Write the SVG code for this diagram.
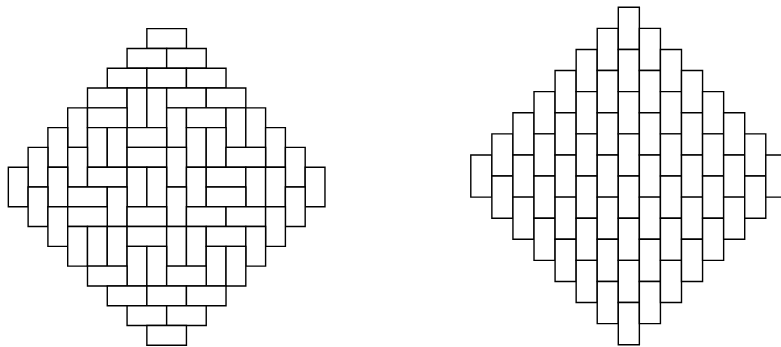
<svg xmlns="http://www.w3.org/2000/svg" width="781" height="347" viewBox="0 0 781 347">
<style>
rect{fill:#fff;stroke:#000;stroke-width:1.4;vector-effect:non-scaling-stroke}
</style>
<rect x="0" y="0" width="781" height="347" style="fill:#fff;stroke:none"/>
<g id="aztec-left" transform="translate(8.33,28.67) scale(19.79)">
<rect x="7" y="0" width="2" height="1"/>
<rect x="6" y="1" width="2" height="1"/><rect x="8" y="1" width="2" height="1"/>
<rect x="5" y="2" width="2" height="1"/><rect x="7" y="2" width="2" height="1"/><rect x="9" y="2" width="2" height="1"/>
<rect x="4" y="3" width="2" height="1"/><rect x="6" y="3" width="1" height="2"/><rect x="7" y="3" width="1" height="2"/><rect x="8" y="3" width="2" height="1"/><rect x="10" y="3" width="2" height="1"/>
<rect x="3" y="4" width="1" height="2"/><rect x="4" y="4" width="2" height="1"/><rect x="8" y="4" width="1" height="2"/><rect x="9" y="4" width="2" height="1"/><rect x="11" y="4" width="1" height="2"/><rect x="12" y="4" width="1" height="2"/>
<rect x="2" y="5" width="1" height="2"/><rect x="4" y="5" width="1" height="2"/><rect x="5" y="5" width="1" height="2"/><rect x="6" y="5" width="2" height="1"/><rect x="9" y="5" width="1" height="2"/><rect x="10" y="5" width="1" height="2"/><rect x="13" y="5" width="1" height="2"/>
<rect x="1" y="6" width="1" height="2"/><rect x="3" y="6" width="1" height="2"/><rect x="6" y="6" width="2" height="1"/><rect x="8" y="6" width="1" height="2"/><rect x="11" y="6" width="2" height="1"/><rect x="14" y="6" width="1" height="2"/>
<rect x="0" y="7" width="1" height="2"/><rect x="2" y="7" width="1" height="2"/><rect x="4" y="7" width="2" height="1"/><rect x="6" y="7" width="1" height="2"/><rect x="7" y="7" width="1" height="2"/><rect x="9" y="7" width="1" height="2"/><rect x="10" y="7" width="2" height="1"/><rect x="12" y="7" width="1" height="2"/><rect x="13" y="7" width="1" height="2"/><rect x="15" y="7" width="1" height="2"/>
<rect x="1" y="8" width="1" height="2"/><rect x="3" y="8" width="2" height="1"/><rect x="5" y="8" width="1" height="2"/><rect x="8" y="8" width="1" height="2"/><rect x="10" y="8" width="2" height="1"/><rect x="14" y="8" width="1" height="2"/>
<rect x="2" y="9" width="1" height="2"/><rect x="3" y="9" width="2" height="1"/><rect x="6" y="9" width="2" height="1"/><rect x="9" y="9" width="2" height="1"/><rect x="11" y="9" width="2" height="1"/><rect x="13" y="9" width="1" height="2"/>
<rect x="3" y="10" width="1" height="2"/><rect x="4" y="10" width="1" height="2"/><rect x="5" y="10" width="1" height="2"/><rect x="6" y="10" width="2" height="1"/><rect x="8" y="10" width="1" height="2"/><rect x="9" y="10" width="1" height="2"/><rect x="10" y="10" width="2" height="1"/><rect x="12" y="10" width="1" height="2"/>
<rect x="6" y="11" width="1" height="2"/><rect x="7" y="11" width="1" height="2"/><rect x="10" y="11" width="1" height="2"/><rect x="11" y="11" width="1" height="2"/>
<rect x="4" y="12" width="2" height="1"/><rect x="8" y="12" width="2" height="1"/>
<rect x="5" y="13" width="2" height="1"/><rect x="7" y="13" width="2" height="1"/><rect x="9" y="13" width="2" height="1"/>
<rect x="6" y="14" width="2" height="1"/><rect x="8" y="14" width="2" height="1"/>
<rect x="7" y="15" width="2" height="1"/>
</g>
<g id="columns-right" transform="translate(470.8,7.3) scale(21.07,21.09)">
<rect x="0" y="7" width="1" height="2"/>
<rect x="1" y="6" width="1" height="2"/><rect x="1" y="8" width="1" height="2"/>
<rect x="2" y="5" width="1" height="2"/><rect x="2" y="7" width="1" height="2"/><rect x="2" y="9" width="1" height="2"/>
<rect x="3" y="4" width="1" height="2"/><rect x="3" y="6" width="1" height="2"/><rect x="3" y="8" width="1" height="2"/><rect x="3" y="10" width="1" height="2"/>
<rect x="4" y="3" width="1" height="2"/><rect x="4" y="5" width="1" height="2"/><rect x="4" y="7" width="1" height="2"/><rect x="4" y="9" width="1" height="2"/><rect x="4" y="11" width="1" height="2"/>
<rect x="5" y="2" width="1" height="2"/><rect x="5" y="4" width="1" height="2"/><rect x="5" y="6" width="1" height="2"/><rect x="5" y="8" width="1" height="2"/><rect x="5" y="10" width="1" height="2"/><rect x="5" y="12" width="1" height="2"/>
<rect x="6" y="1" width="1" height="2"/><rect x="6" y="3" width="1" height="2"/><rect x="6" y="5" width="1" height="2"/><rect x="6" y="7" width="1" height="2"/><rect x="6" y="9" width="1" height="2"/><rect x="6" y="11" width="1" height="2"/><rect x="6" y="13" width="1" height="2"/>
<rect x="7" y="0" width="1" height="2"/><rect x="7" y="2" width="1" height="2"/><rect x="7" y="4" width="1" height="2"/><rect x="7" y="6" width="1" height="2"/><rect x="7" y="8" width="1" height="2"/><rect x="7" y="10" width="1" height="2"/><rect x="7" y="12" width="1" height="2"/><rect x="7" y="14" width="1" height="2"/>
<rect x="8" y="1" width="1" height="2"/><rect x="8" y="3" width="1" height="2"/><rect x="8" y="5" width="1" height="2"/><rect x="8" y="7" width="1" height="2"/><rect x="8" y="9" width="1" height="2"/><rect x="8" y="11" width="1" height="2"/><rect x="8" y="13" width="1" height="2"/>
<rect x="9" y="2" width="1" height="2"/><rect x="9" y="4" width="1" height="2"/><rect x="9" y="6" width="1" height="2"/><rect x="9" y="8" width="1" height="2"/><rect x="9" y="10" width="1" height="2"/><rect x="9" y="12" width="1" height="2"/>
<rect x="10" y="3" width="1" height="2"/><rect x="10" y="5" width="1" height="2"/><rect x="10" y="7" width="1" height="2"/><rect x="10" y="9" width="1" height="2"/><rect x="10" y="11" width="1" height="2"/>
<rect x="11" y="4" width="1" height="2"/><rect x="11" y="6" width="1" height="2"/><rect x="11" y="8" width="1" height="2"/><rect x="11" y="10" width="1" height="2"/>
<rect x="12" y="5" width="1" height="2"/><rect x="12" y="7" width="1" height="2"/><rect x="12" y="9" width="1" height="2"/>
<rect x="13" y="6" width="1" height="2"/><rect x="13" y="8" width="1" height="2"/>
<rect x="14" y="7" width="1" height="2"/>
</g>
</svg>
